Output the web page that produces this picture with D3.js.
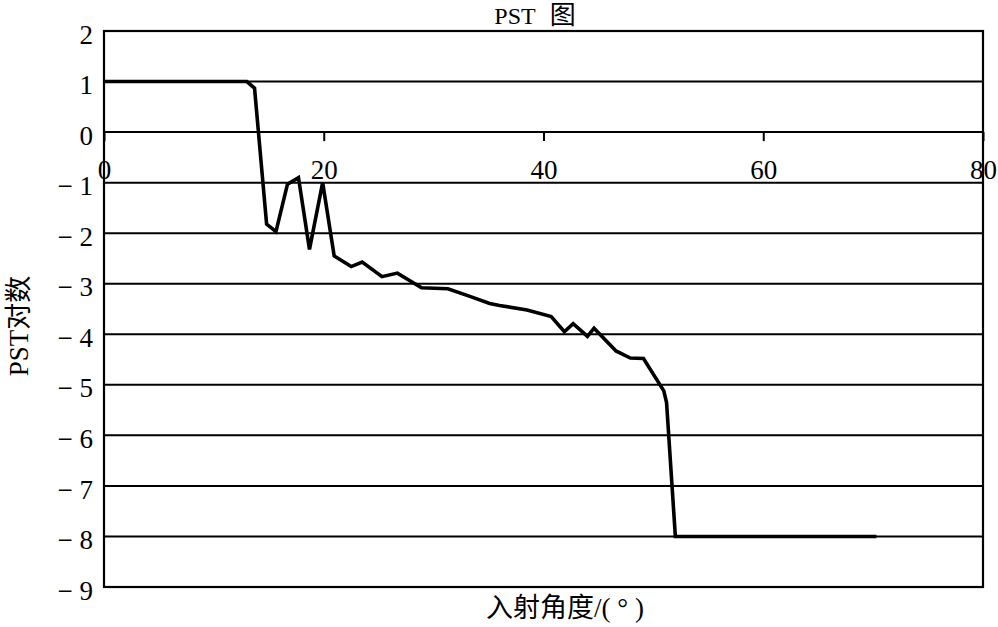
<!DOCTYPE html>
<html>
<head>
<meta charset="utf-8">
<script src="https://cdn.jsdelivr.net/npm/d3@7/dist/d3.min.js"></script>
<style>
  html, body { margin: 0; padding: 0; background: #fff; }
  svg { display: block; }
  text { font-family: "Liberation Serif", "Noto Sans CJK SC", serif; fill: #000; }
</style>
</head>
<body>
<svg id="chart" width="998" height="627"></svg>
<script>
// ---- data ----
const angles = [0, 13.0, 13.7, 14.8, 15.65, 16.7, 17.7, 18.7, 19.9, 20.95, 22.5, 23.5, 25.3, 26.7, 28.9, 31.3, 33.3, 35.1, 36.0, 38.5, 40.7, 41.9, 42.7, 44.0, 44.6, 46.6, 47.9, 49.1, 50.95, 51.2, 52.0, 70.3];
const pstLog = [1, 1, 0.87, -1.82, -1.97, -1.03, -0.9, -2.32, -1.0, -2.45, -2.66, -2.57, -2.86, -2.79, -3.08, -3.10, -3.25, -3.39, -3.43, -3.52, -3.65, -3.95, -3.79, -4.04, -3.88, -4.33, -4.47, -4.48, -5.12, -5.35, -8, -8];
const xTicks = [0, 20, 40, 60, 80];
const yTicks = [2, 1, 0, -1, -2, -3, -4, -5, -6, -7, -8, -9];
const titleMain = "PST";
const titleCJK = "图";
const xLabel = "入射角度/( ° )";
const yLabel = "PST对数";

// ---- layout ----
const L = 104, R = 983, T = 31, B = 587;
const svg = d3.select("#chart");
const x = d3.scaleLinear().domain([0, 80]).range([L, R]);
const y = d3.scaleLinear().domain([-9, 2]).range([B, T]);

// gridlines
svg.append("g").selectAll("line").data(yTicks.filter(v => v > -9 && v < 2)).join("line")
  .attr("x1", L).attr("x2", R).attr("y1", d => y(d)).attr("y2", d => y(d))
  .attr("stroke", "#000").attr("stroke-width", 2);

// frame
svg.append("rect").attr("x", L).attr("y", T).attr("width", R - L).attr("height", B - T)
  .attr("fill", "none").attr("stroke", "#000").attr("stroke-width", 2.2);

// x axis at y = 0
const xAxis = d3.axisBottom(x).tickValues(xTicks).tickSize(9).tickPadding(19).tickFormat(d3.format("d"));
const gx = svg.append("g").attr("transform", `translate(0,${y(0)})`).call(xAxis);
gx.select(".domain").remove();
gx.selectAll(".tick line").attr("stroke", "#000").attr("stroke-width", 2);
gx.selectAll(".tick text").attr("font-size", 27).attr("font-family", "Liberation Serif, serif");

// y axis labels
const yAxis = d3.axisLeft(y).tickValues(yTicks).tickSize(0).tickPadding(11)
  .tickFormat(d => d < 0 ? "\u2212 " + Math.abs(d) : String(d));
const gy = svg.append("g").attr("transform", `translate(${L},0)`).call(yAxis);
gy.select(".domain").remove();
gy.selectAll(".tick text").attr("font-size", 27).attr("dy", "0.45em").attr("font-family", "Liberation Serif, serif");

// data line
const line = d3.line().x((d, i) => x(angles[i])).y(d => y(d));
svg.append("path").datum(pstLog).attr("d", line)
  .attr("fill", "none").attr("stroke", "#000").attr("stroke-width", 3.6)
  .attr("stroke-linejoin", "miter");

// title
const t = svg.append("text").attr("x", 535).attr("y", 24).attr("text-anchor", "middle").attr("font-size", 24);
t.append("tspan").text(titleMain);
t.append("tspan").attr("dx", 14).attr("font-size", 26).text(titleCJK);

// x label
svg.append("text").attr("x", 565).attr("y", 617).attr("text-anchor", "middle").attr("font-size", 27).text(xLabel);

// y label
svg.append("text").attr("transform", "translate(28,326) rotate(-90)").attr("text-anchor", "middle")
  .attr("font-size", 27).text(yLabel);
</script>
</body>
</html>
